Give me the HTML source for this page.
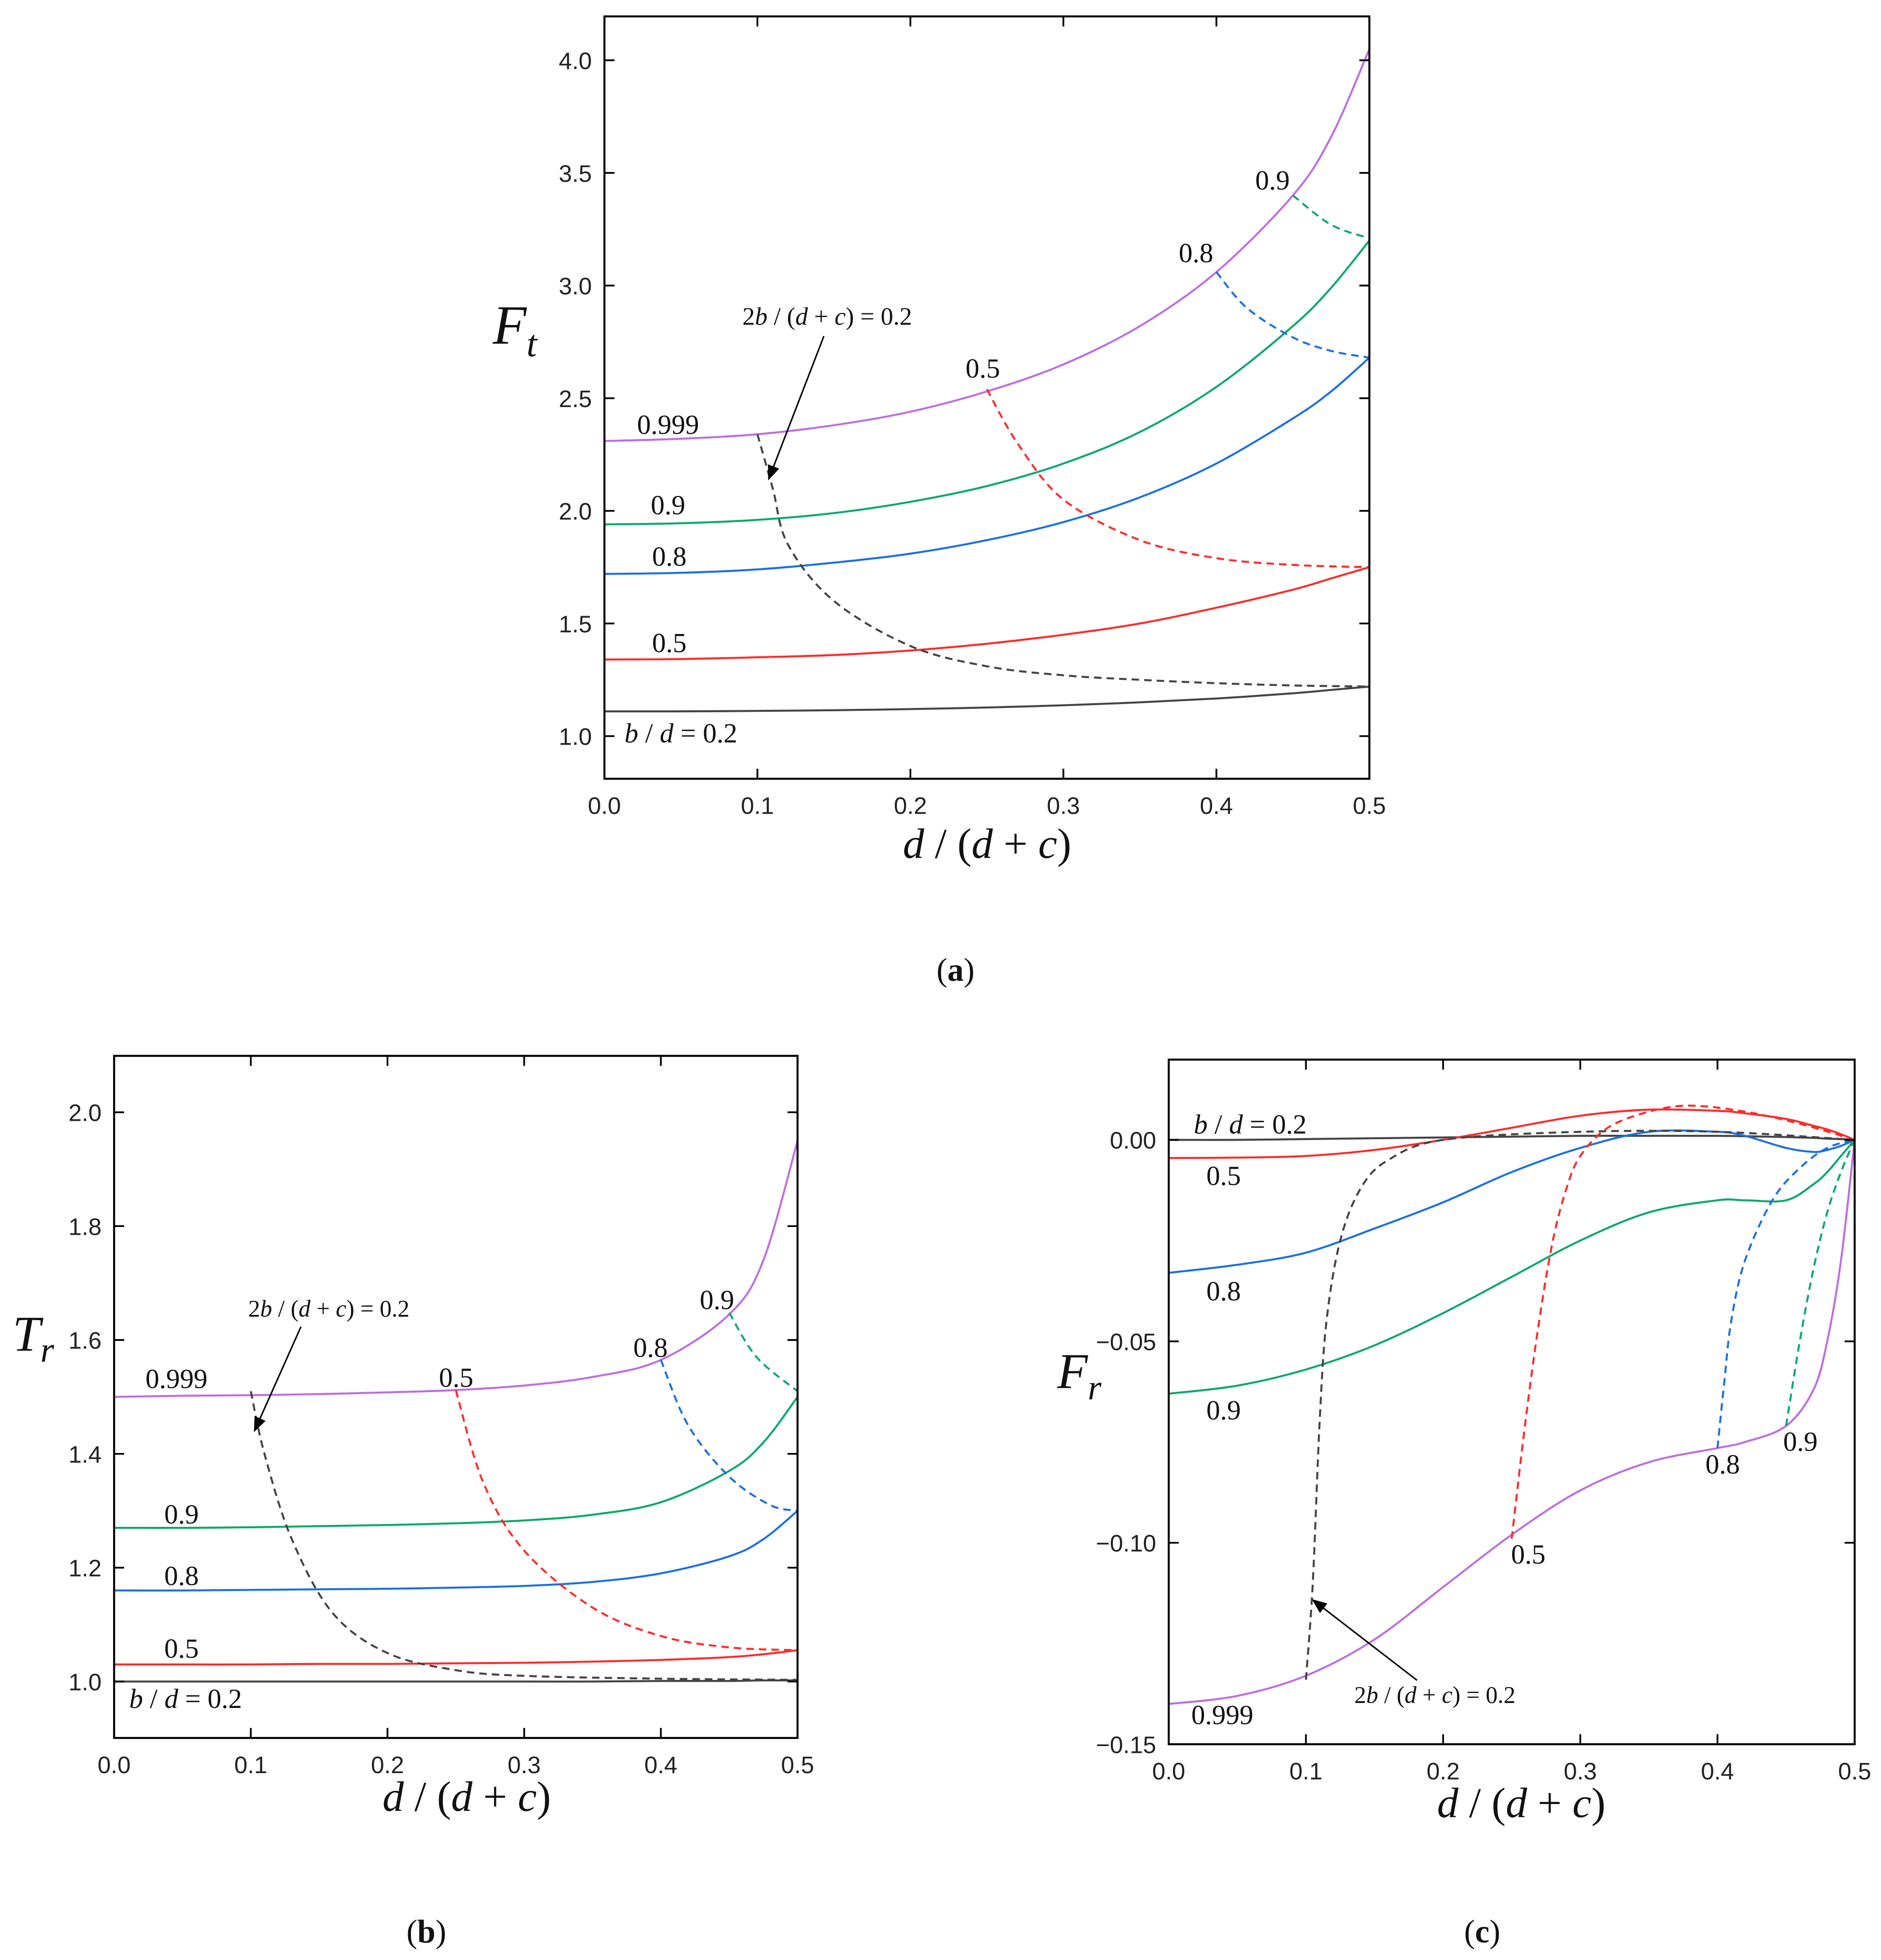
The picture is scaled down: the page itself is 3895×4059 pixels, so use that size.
<!DOCTYPE html>
<html><head><meta charset="utf-8"><style>
html,body{margin:0;padding:0;background:#fff}
svg{display:block}
.tk{font-family:"Liberation Sans",sans-serif;font-size:19px;fill:#222}
.lb{font-family:"Liberation Serif",serif;font-size:22px;fill:#111}
.it{font-style:italic}
.ttl{font-family:"Liberation Serif",serif;font-size:34px;fill:#111}
</style></head><body>
<svg id="fig" width="3895" height="4059" viewBox="0 0 1500 1563" xmlns="http://www.w3.org/2000/svg">
<rect width="1500" height="1563" fill="#fff"/>
</svg>
<script>
// ---------- data (a) ----------
const xA = [0,0.05,0.1,0.15,0.2,0.25,0.3,0.35,0.4,0.45,0.475,0.5];
const aBlack = [1.11,1.11,1.112,1.115,1.12,1.127,1.137,1.15,1.167,1.19,1.205,1.22];
const aRed = [1.34,1.342,1.35,1.36,1.38,1.41,1.45,1.50,1.57,1.65,1.70,1.75];
const aBlue = [1.72,1.725,1.74,1.77,1.81,1.87,1.95,2.06,2.21,2.41,2.53,2.68];
const aGreen = [1.94,1.945,1.96,1.99,2.04,2.11,2.21,2.35,2.55,2.82,2.99,3.20];
const aPurple = [2.31,2.32,2.34,2.38,2.44,2.53,2.65,2.82,3.06,3.40,3.66,4.05];
const aDBlackX = [0.1,0.11,0.12,0.15,0.2,0.25,0.3,0.35,0.4,0.45,0.5];
const aDBlackY = [2.34,2.1,1.85,1.6,1.4,1.31,1.27,1.25,1.235,1.225,1.22];
const aDRedX = [0.25,0.27,0.3,0.35,0.4,0.45,0.5];
const aDRedY = [2.54,2.3,2.05,1.87,1.79,1.76,1.75];
const aDBlueX = [0.4,0.42,0.45,0.475,0.5];
const aDBlueY = [3.06,2.90,2.77,2.71,2.68];
const aDGreenX = [0.45,0.475,0.5];
const aDGreenY = [3.40,3.27,3.21];
const aYTicks = [1.0,1.5,2.0,2.5,3.0,3.5,4.0];
const aYLabels = ["1.0","1.5","2.0","2.5","3.0","3.5","4.0"];
// ---------- data (b) ----------
const xB = [0,0.05,0.1,0.15,0.2,0.25,0.3,0.35,0.4,0.45,0.475,0.5];
const bBlack = [1.0,1.0,1.0,1.0,1.0,1.0,1.0,1.0,1.001,1.001,1.002,1.002];
const bRed = [1.03,1.03,1.03,1.031,1.031,1.032,1.033,1.035,1.038,1.043,1.048,1.055];
const bBlue = [1.16,1.16,1.161,1.162,1.163,1.165,1.168,1.175,1.19,1.22,1.25,1.30];
const bGreen = [1.27,1.27,1.271,1.273,1.275,1.278,1.283,1.293,1.315,1.37,1.42,1.50];
const bPurple = [1.50,1.502,1.503,1.505,1.508,1.512,1.52,1.535,1.565,1.645,1.74,1.95];
const bDBlackX = [0.1,0.11,0.13,0.16,0.2,0.25,0.3,0.4,0.5];
const bDBlackY = [1.51,1.40,1.25,1.12,1.05,1.02,1.01,1.005,1.003];
const bDRedX = [0.25,0.27,0.3,0.35,0.4,0.45,0.5];
const bDRedY = [1.512,1.35,1.23,1.13,1.08,1.06,1.055];
const bDBlueX = [0.4,0.42,0.45,0.48,0.5];
const bDBlueY = [1.565,1.45,1.36,1.31,1.30];
const bDGreenX = [0.45,0.47,0.5];
const bDGreenY = [1.648,1.57,1.51];
const bYTicks = [1.0,1.2,1.4,1.6,1.8,2.0];
const bYLabels = ["1.0","1.2","1.4","1.6","1.8","2.0"];
// ---------- data (c) ----------
const xC = [0,0.05,0.1,0.15,0.2,0.25,0.3,0.35,0.4,0.42,0.45,0.47,0.48,0.49,0.5];
const cBlack = [0,0,0.0002,0.0004,0.0006,0.0008,0.001,0.001,0.001,0.0009,0.0007,0.0005,0.0003,0.0002,0];
const cRed = [-0.0045,-0.0044,-0.004,-0.0025,0.0,0.003,0.006,0.0075,0.0072,0.0066,0.0052,0.0035,0.0026,0.0014,0];
const cBlue = [-0.033,-0.031,-0.028,-0.022,-0.0155,-0.008,-0.002,0.002,0.002,0.001,-0.002,-0.003,-0.0025,-0.0015,0];
const cGreen = [-0.063,-0.061,-0.057,-0.051,-0.043,-0.034,-0.025,-0.018,-0.015,-0.015,-0.015,-0.011,-0.008,-0.004,0];
const cPurple = [-0.14,-0.138,-0.133,-0.124,-0.111,-0.098,-0.087,-0.080,-0.0765,-0.075,-0.071,-0.062,-0.05,-0.03,0];
const cDBlackX = [0.1,0.105,0.11,0.115,0.125,0.14,0.16,0.2,0.3,0.4,0.5];
const cDBlackY = [-0.134,-0.11,-0.07,-0.045,-0.025,-0.012,-0.005,0.0,0.002,0.002,0];
const cDRedX = [0.25,0.26,0.27,0.28,0.29,0.3,0.32,0.35,0.38,0.42,0.46,0.5];
const cDRedY = [-0.099,-0.07,-0.045,-0.025,-0.012,-0.004,0.003,0.007,0.0085,0.007,0.004,0];
const cDBlueX = [0.4,0.405,0.41,0.42,0.44,0.46,0.48,0.5];
const cDBlueY = [-0.0765,-0.06,-0.045,-0.03,-0.015,-0.007,-0.002,0];
const cDGreenX = [0.45,0.46,0.47,0.48,0.49,0.5];
const cDGreenY = [-0.071,-0.05,-0.032,-0.018,-0.008,0];
const cYTicks = [0,-0.05,-0.10,-0.15];
const cYLabels = ["0.00","\u22120.05","\u22120.10","\u22120.15"];
const xTicks = [0,0.1,0.2,0.3,0.4,0.5];
const xLabels = ["0.0","0.1","0.2","0.3","0.4","0.5"];

const COL = {black:"#444",red:"#ff2a2a",blue:"#1a70e0",green:"#0aa86a",purple:"#bd6ee0"};
const NS="http://www.w3.org/2000/svg";
const svg=document.getElementById('fig');
function mk(tag,attrs,parent){const e=document.createElementNS(NS,tag);for(const k in attrs)e.setAttribute(k,attrs[k]);(parent||svg).appendChild(e);return e;}
function smooth(pts){
  let d="M"+pts[0][0].toFixed(2)+","+pts[0][1].toFixed(2);
  for(let i=0;i<pts.length-1;i++){
    const p0=pts[Math.max(0,i-1)],p1=pts[i],p2=pts[i+1],p3=pts[Math.min(pts.length-1,i+2)];
    const c1=[p1[0]+(p2[0]-p0[0])/6,p1[1]+(p2[1]-p0[1])/6];
    const c2=[p2[0]-(p3[0]-p1[0])/6,p2[1]-(p3[1]-p1[1])/6];
    d+="C"+c1[0].toFixed(2)+","+c1[1].toFixed(2)+" "+c2[0].toFixed(2)+","+c2[1].toFixed(2)+" "+p2[0].toFixed(2)+","+p2[1].toFixed(2);
  }
  return d;
}
function chart(cfg){
  const g=mk('g',{});
  
  
  const sx=v=>cfg.x0+(v-0)/(0.5)*(cfg.x1-cfg.x0);
  const sy=v=>cfg.yA+(v-cfg.vA)/(cfg.vB-cfg.vA)*(cfg.yB-cfg.yA);
  cfg.series.forEach(s=>{
    const pts=s.x.map((xv,i)=>[sx(xv),sy(s.y[i])]);
    const p=mk('path',{d:smooth(pts),fill:'none',stroke:s.c,'stroke-width':1.6,'stroke-dasharray':s.dash?'6,4':'none'},g);
    
    
  });
  const fr=mk('rect',{x:cfg.x0,y:cfg.top,width:cfg.x1-cfg.x0,height:cfg.bot-cfg.top,fill:'none',stroke:'#000','stroke-width':1.6},g);
  
  
  xTicks.forEach((t,i)=>{
    const X=sx(t);
    mk('line',{x1:X,x2:X,y1:cfg.bot,y2:cfg.bot-8,stroke:'#000','stroke-width':1.4},g);
    mk('line',{x1:X,x2:X,y1:cfg.top,y2:cfg.top+8,stroke:'#000','stroke-width':1.4},g);
    const tx=mk('text',{x:X,y:cfg.bot+28,'text-anchor':'middle',class:'tk'},g);
    tx.textContent=xLabels[i];
    
    
  });
  cfg.yt.forEach((t,i)=>{
    const Y=sy(t);
    mk('line',{x1:cfg.x0,x2:cfg.x0+8,y1:Y,y2:Y,stroke:'#000','stroke-width':1.4},g);
    mk('line',{x1:cfg.x1,x2:cfg.x1-8,y1:Y,y2:Y,stroke:'#000','stroke-width':1.4},g);
    const tx=mk('text',{x:cfg.x0-10,y:Y+7,'text-anchor':'end',class:'tk'},g);
    tx.textContent=cfg.yl[i];
    
    
  });
}
chart({name:'chart-a',x0:482,x1:1092,top:13,bot:621,yA:587,vA:1.0,yB:48,vB:4.0,yt:aYTicks,yl:aYLabels,series:[
 {n:'a-line-0.2',x:xA,y:aBlack,c:COL.black},{n:'a-line-0.5',x:xA,y:aRed,c:COL.red},{n:'a-line-0.8',x:xA,y:aBlue,c:COL.blue},
 {n:'a-line-0.9',x:xA,y:aGreen,c:COL.green},{n:'a-line-0.999',x:xA,y:aPurple,c:COL.purple},
 {n:'a-dash-0.2',x:aDBlackX,y:aDBlackY,c:COL.black,dash:1},{n:'a-dash-0.5',x:aDRedX,y:aDRedY,c:COL.red,dash:1},
 {n:'a-dash-0.8',x:aDBlueX,y:aDBlueY,c:COL.blue,dash:1},{n:'a-dash-0.9',x:aDGreenX,y:aDGreenY,c:COL.green,dash:1}]});
chart({name:'chart-b',x0:91,x1:636,top:842,bot:1386,yA:1341,vA:1.0,yB:887,vB:2.0,yt:bYTicks,yl:bYLabels,series:[
 {n:'b-line-0.2',x:xB,y:bBlack,c:COL.black},{n:'b-line-0.5',x:xB,y:bRed,c:COL.red},{n:'b-line-0.8',x:xB,y:bBlue,c:COL.blue},
 {n:'b-line-0.9',x:xB,y:bGreen,c:COL.green},{n:'b-line-0.999',x:xB,y:bPurple,c:COL.purple},
 {n:'b-dash-0.2',x:bDBlackX,y:bDBlackY,c:COL.black,dash:1},{n:'b-dash-0.5',x:bDRedX,y:bDRedY,c:COL.red,dash:1},
 {n:'b-dash-0.8',x:bDBlueX,y:bDBlueY,c:COL.blue,dash:1},{n:'b-dash-0.9',x:bDGreenX,y:bDGreenY,c:COL.green,dash:1}]});
chart({name:'chart-c',x0:932,x1:1479,top:845,bot:1391,yA:909,vA:0,yB:1391,vB:-0.15,yt:cYTicks,yl:cYLabels,series:[
 {n:'c-line-0.2',x:xC,y:cBlack,c:COL.black},{n:'c-line-0.5',x:xC,y:cRed,c:COL.red},{n:'c-line-0.8',x:xC,y:cBlue,c:COL.blue},
 {n:'c-line-0.9',x:xC,y:cGreen,c:COL.green},{n:'c-line-0.999',x:xC,y:cPurple,c:COL.purple},
 {n:'c-dash-0.2',x:cDBlackX,y:cDBlackY,c:COL.black,dash:1},{n:'c-dash-0.5',x:cDRedX,y:cDRedY,c:COL.red,dash:1},
 {n:'c-dash-0.8',x:cDBlueX,y:cDBlueY,c:COL.blue,dash:1},{n:'c-dash-0.9',x:cDGreenX,y:cDGreenY,c:COL.green,dash:1}]});
</script>
<script>
const ann = `
<defs><marker id="ah" markerWidth="10" markerHeight="8" refX="9" refY="4" orient="auto"><path d="M0,0L10,4L0,8z" fill="#000"/></marker></defs>
<g>
<text class="lb" x="508" y="346">0.999</text><text class="lb" x="519" y="410">0.9</text><text class="lb" x="520" y="451">0.8</text><text class="lb" x="520" y="520">0.5</text>
<text class="lb" x="498" y="592"><tspan class="it">b</tspan> / <tspan class="it">d</tspan> = 0.2</text>
<text class="lb" x="770" y="301">0.5</text><text class="lb" x="940" y="209">0.8</text><text class="lb" x="1001" y="151">0.9</text>
<text class="lb" x="592" y="259" style="font-size:20px">2<tspan class="it">b</tspan> / (<tspan class="it">d</tspan> + <tspan class="it">c</tspan>) = 0.2</text>
<line x1="657" y1="268" x2="613" y2="382" stroke="#000" stroke-width="1.2" marker-end="url(#ah)"/>
<text class="ttl it" x="393" y="274" style="font-size:44px">F<tspan dy="10" style="font-size:30px">t</tspan></text>
<text class="ttl" x="720" y="684"><tspan class="it">d</tspan> / (<tspan class="it">d</tspan> + <tspan class="it">c</tspan>)</text>
<text class="lb" x="762" y="782" text-anchor="middle" style="font-size:26px">(<tspan font-weight="bold">a</tspan>)</text>
</g>
<g>
<text class="lb" x="116" y="1107">0.999</text><text class="lb" x="131" y="1215">0.9</text><text class="lb" x="131" y="1264">0.8</text><text class="lb" x="131" y="1322">0.5</text>
<text class="lb" x="103" y="1362"><tspan class="it">b</tspan> / <tspan class="it">d</tspan> = 0.2</text>
<text class="lb" x="350" y="1106">0.5</text><text class="lb" x="505" y="1082">0.8</text><text class="lb" x="558" y="1044">0.9</text>
<text class="lb" x="198" y="1050" style="font-size:19px">2<tspan class="it">b</tspan> / (<tspan class="it">d</tspan> + <tspan class="it">c</tspan>) = 0.2</text>
<line x1="240" y1="1058" x2="203" y2="1141" stroke="#000" stroke-width="1.2" marker-end="url(#ah)"/>
<text class="ttl it" x="10" y="1077" style="font-size:40px">T<tspan dy="9" style="font-size:28px">r</tspan></text>
<text class="ttl" x="305" y="1444"><tspan class="it">d</tspan> / (<tspan class="it">d</tspan> + <tspan class="it">c</tspan>)</text>
<text class="lb" x="340" y="1549" text-anchor="middle" style="font-size:26px">(<tspan font-weight="bold">b</tspan>)</text>
</g>
<g>
<text class="lb" x="952" y="904"><tspan class="it">b</tspan> / <tspan class="it">d</tspan> = 0.2</text>
<text class="lb" x="962" y="945">0.5</text><text class="lb" x="962" y="1037">0.8</text><text class="lb" x="962" y="1132">0.9</text><text class="lb" x="950" y="1375">0.999</text>
<text class="lb" x="1205" y="1247">0.5</text><text class="lb" x="1360" y="1175">0.8</text><text class="lb" x="1422" y="1157">0.9</text>
<text class="lb" x="1080" y="1358" style="font-size:19px">2<tspan class="it">b</tspan> / (<tspan class="it">d</tspan> + <tspan class="it">c</tspan>) = 0.2</text>
<line x1="1130" y1="1340" x2="1047" y2="1276" stroke="#000" stroke-width="1.2" marker-end="url(#ah)"/>
<text class="ttl it" x="843" y="1107" style="font-size:40px">F<tspan dy="9" style="font-size:28px">r</tspan></text>
<text class="ttl" x="1146" y="1449"><tspan class="it">d</tspan> / (<tspan class="it">d</tspan> + <tspan class="it">c</tspan>)</text>
<text class="lb" x="1182" y="1549" text-anchor="middle" style="font-size:26px">(<tspan font-weight="bold">c</tspan>)</text>
</g>`;
document.getElementById('fig').insertAdjacentHTML('beforeend', ann);
</script>
</body></html>
